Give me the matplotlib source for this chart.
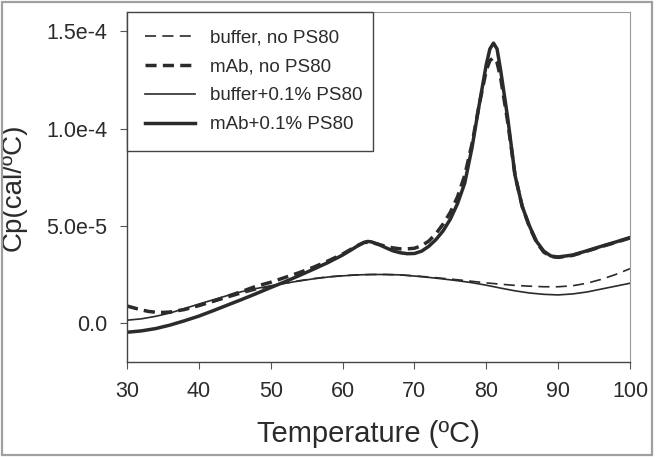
import numpy as np
import matplotlib
matplotlib.use("Agg")
import matplotlib.pyplot as plt
from matplotlib.patches import Rectangle

plt.rcParams["font.family"] = ["Liberation Sans", "DejaVu Sans"]
plt.rcParams["lines.scale_dashes"] = False

# temperatures (C) and Cp values (units of 1e-5 cal/C)
temp_buf_ps = [30, 32, 34, 36, 38, 40, 42, 44, 46, 48, 50, 52, 54, 56, 58, 60, 62, 64, 66, 68,
               70, 72, 74, 76, 78, 80, 82, 84, 86, 88, 90, 92, 94, 96, 98, 100]
buffer_ps80 = [0.15, 0.22, 0.35, 0.52, 0.75, 0.98, 1.20, 1.42, 1.62, 1.78, 1.92, 2.05, 2.17, 2.28,
               2.37, 2.43, 2.48, 2.50, 2.50, 2.48, 2.42, 2.35, 2.27, 2.18, 2.08, 1.95, 1.80, 1.66,
               1.55, 1.48, 1.45, 1.50, 1.60, 1.75, 1.90, 2.05]

temp_buf = [30, 31, 32, 33, 34, 35, 36, 38, 40, 42, 44, 46, 48, 50, 52, 54, 56, 58, 60, 62, 64,
            66, 68, 70, 72, 74, 76, 78, 80, 82, 84, 86, 88, 90, 92, 94, 96, 98, 100]
buffer_no = [0.85, 0.75, 0.67, 0.60, 0.57, 0.56, 0.58, 0.70, 0.88, 1.08, 1.30, 1.52, 1.72, 1.90,
             2.05, 2.18, 2.29, 2.38, 2.44, 2.48, 2.50, 2.50, 2.48, 2.43, 2.37, 2.30, 2.23, 2.15,
             2.07, 2.00, 1.94, 1.90, 1.87, 1.87, 1.92, 2.05, 2.25, 2.50, 2.80]

temp_mab_ps = [30, 32, 34, 36, 38, 40, 42, 44, 46, 48, 50, 52, 54, 56, 58, 60, 61, 62, 63, 63.5,
               64, 65, 66, 67, 68, 69, 70, 71, 72, 73, 74, 75, 76, 77, 78, 79, 80, 80.5, 81, 81.5,
               82, 83, 84, 85, 86, 87, 88, 89, 90, 92, 94, 96, 98, 100]
mab_ps80 = [-0.47, -0.40, -0.28, -0.10, 0.12, 0.36, 0.64, 0.93, 1.22, 1.52, 1.83, 2.13, 2.45,
            2.78, 3.12, 3.50, 3.72, 3.95, 4.15, 4.20, 4.18, 4.05, 3.88, 3.72, 3.62, 3.57, 3.58,
            3.70, 3.95, 4.30, 4.75, 5.35, 6.15, 7.20, 9.00, 11.2, 13.3, 14.1, 14.4, 14.1, 13.0,
            10.5, 7.60, 6.00, 5.00, 4.20, 3.70, 3.45, 3.40, 3.50, 3.72, 3.95, 4.17, 4.40]

temp_mab = [30, 31, 32, 33, 34, 35, 36, 38, 40, 42, 44, 46, 48, 50, 52, 54, 56, 58, 60, 62, 63,
            64, 65, 66, 67, 68, 69, 70, 71, 72, 73, 74, 75, 76, 77, 78, 79, 80, 80.5, 81, 81.5,
            82, 83, 84, 85, 86, 87, 88, 89, 90, 92, 94, 96, 98, 100]
mab_no = [0.88, 0.78, 0.68, 0.60, 0.56, 0.55, 0.57, 0.70, 0.90, 1.13, 1.38, 1.63, 1.90, 2.10,
          2.35, 2.60, 2.88, 3.20, 3.55, 3.98, 4.15, 4.15, 4.05, 3.95, 3.87, 3.82, 3.82, 3.85,
          3.98, 4.22, 4.60, 5.10, 5.70, 6.50, 7.60, 9.20, 11.2, 13.0, 13.5, 13.65, 13.4, 12.6,
          10.3, 7.60, 6.00, 4.95, 4.15, 3.65, 3.42, 3.38, 3.48, 3.70, 3.93, 4.15, 4.38]

labels = ["buffer, no PS80", "mAb, no PS80", "buffer+0.1% PS80", "mAb+0.1% PS80"]
xticks = [30, 40, 50, 60, 70, 80, 90, 100]
yticks = [0.0, 5e-5, 1e-4, 1.5e-4]
ytick_labels = ["0.0", "5.0e-5", "1.0e-4", "1.5e-4"]

ink = "#2b2b2b"

fig = plt.figure(figsize=(6.57, 4.57), dpi=100)
ax = fig.add_axes([127 / 657, 1 - 362 / 457, 503 / 657, 350 / 457])

scale = 1e-5
ax.plot(temp_buf, np.array(buffer_no) * scale, color=ink, lw=1.2, dashes=(8, 4.5), label=labels[0])
ax.plot(temp_mab, np.array(mab_no) * scale, color=ink, lw=2.5, dashes=(8, 4.5), label=labels[1])
ax.plot(temp_buf_ps, np.array(buffer_ps80) * scale, color=ink, lw=1.2, label=labels[2])
ax.plot(temp_mab_ps, np.array(mab_ps80) * scale, color=ink, lw=2.5, label=labels[3])

ax.set_xlim(30, 100)
ax.set_ylim(-2e-5, 1.6e-4)
ax.set_xticks(xticks)
ax.set_yticks(yticks)
ax.set_yticklabels(ytick_labels)
ax.tick_params(direction="out", length=5, width=0.8, color="#555555",
               labelsize=15.5, labelcolor=ink, pad=9)

for side in ["left", "bottom"]:
    ax.spines[side].set_color("#444444")
    ax.spines[side].set_linewidth(1.0)
for side in ["top", "right"]:
    ax.spines[side].set_color("#999999")
    ax.spines[side].set_linewidth(0.8)

ax.set_xlabel("Temperature (ºC)", fontsize=21, color=ink)
ax.set_ylabel("Cp(cal/ºC)", fontsize=20, color=ink)
ax.xaxis.set_label_coords(0.48, -0.165)
ax.yaxis.set_label_coords(-0.20, 0.5)

leg = ax.legend(loc="upper left", bbox_to_anchor=(0, 0.5, 246 / 503, 0.5), mode="expand",
                borderaxespad=0, fontsize=13.5, handlelength=2.7, handletextpad=0.8,
                labelspacing=0.62, borderpad=0.95, fancybox=False, framealpha=1)
leg.get_frame().set_edgecolor("#444444")
leg.get_frame().set_linewidth(1.0)
for t in leg.get_texts():
    t.set_color(ink)

# grey frame around the whole picture
fig.patches.append(Rectangle((2 / 657, 2 / 457), 650 / 657, 453 / 457, transform=fig.transFigure,
                             fill=False, edgecolor="#a0a0a0", linewidth=1.6))

fig.savefig("out.png", dpi=100)
